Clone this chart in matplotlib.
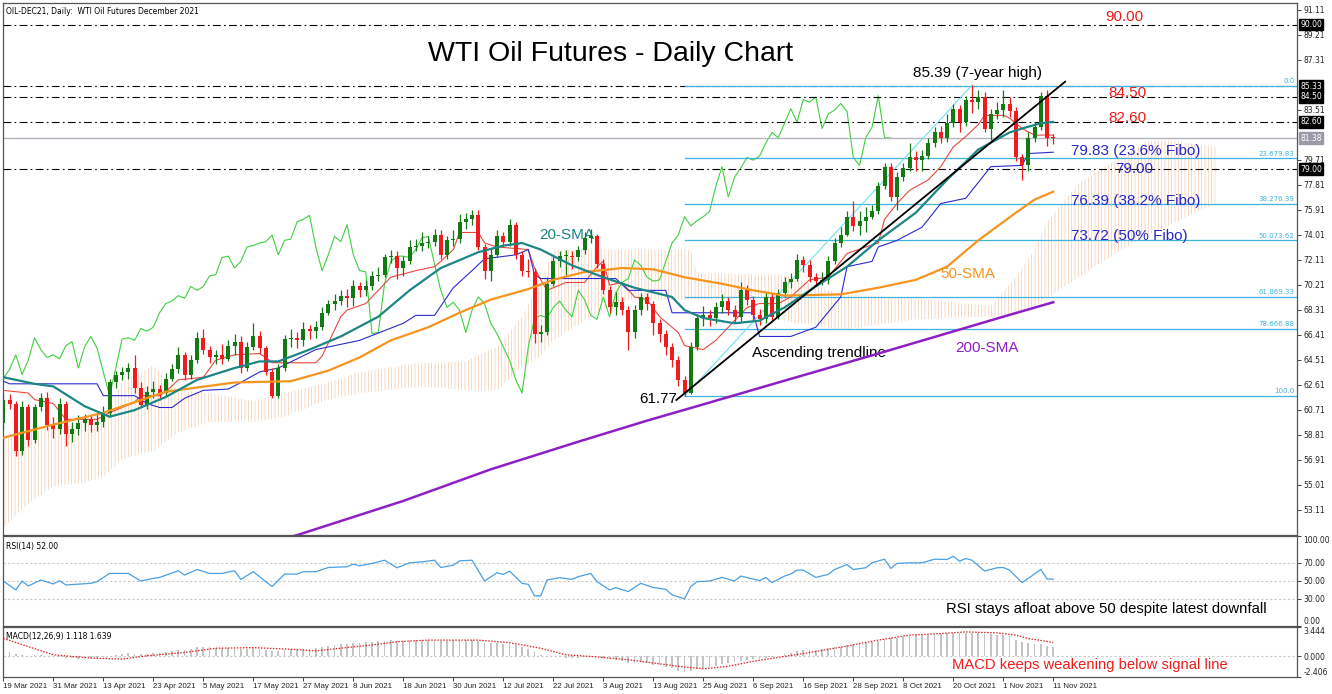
import numpy as np
import matplotlib
matplotlib.use("Agg")
import matplotlib.pyplot as plt

# ---- price data (daily bars) ----
first_open = 59.7
closes = [61.5, 61.2, 57.6, 60.9, 58.4, 60.9, 61.6, 59.6, 59.3, 61.2,
          58.9, 59.3, 59.7, 60.0, 59.6, 59.8, 60.5, 62.8, 63.4, 63.6,
          63.9, 62.4, 61.1, 62.1, 62.3, 62.0, 63.1, 63.8, 64.9, 63.4,
          64.5, 66.2, 65.3, 64.7, 64.9, 64.6, 65.6, 65.9, 63.9, 65.5,
          66.3, 65.4, 63.6, 61.8, 63.9, 66.1, 66.2, 66.0, 66.9, 66.7,
          67.0, 68.1, 68.8, 69.0, 69.4, 69.2, 70.1, 69.8, 70.1, 70.9,
          71.0, 72.3, 72.4, 71.5, 72.0, 73.1, 73.2, 73.4, 73.5, 74.0,
          72.5, 73.6, 73.7, 75.0, 75.2, 75.5, 73.1, 71.3, 72.5, 73.9,
          73.5, 74.8, 72.5, 71.3, 71.2, 66.5, 66.6, 70.3, 72.0, 72.4,
          72.4, 72.3, 72.9, 73.8, 73.9, 71.8, 69.8, 68.5, 68.9, 68.3,
          66.6, 68.3, 69.3, 68.8, 67.3, 66.5, 65.5, 64.5, 63.0, 62.0,
          65.5, 67.7, 67.9, 67.7, 68.5, 69.0, 68.3, 67.8, 69.8, 69.1,
          67.9, 67.6, 69.3, 67.8, 69.6, 70.4, 70.7, 72.1, 71.7, 70.8,
          70.5, 70.6, 72.0, 73.4, 74.0, 75.4, 74.7, 75.1, 75.4, 75.8,
          77.7, 79.2, 76.9, 78.4, 79.1, 79.9, 79.7, 80.0, 81.0, 81.8,
          81.4, 82.5, 83.6, 82.6, 84.3, 84.1, 84.5, 82.1, 83.2, 83.5,
          84.0, 83.4, 79.9, 79.3, 81.4, 82.2, 84.6, 81.4, 81.38]
highs = [62.0, 61.9, 61.4, 61.4, 61.2, 61.2, 62.0, 62.1, 60.2, 61.6,
         61.4, 59.8, 60.3, 60.4, 60.3, 60.4, 61.0, 63.1, 63.7, 64.0,
         64.3, 64.9, 62.8, 62.5, 62.9, 62.6, 63.5, 64.2, 65.5, 65.1,
         64.9, 66.6, 66.9, 65.6, 65.3, 65.7, 66.0, 66.5, 66.3, 65.9,
         67.3, 66.7, 65.6, 63.9, 64.2, 66.4, 66.9, 66.6, 67.4, 67.2,
         67.5, 68.5, 69.1, 69.5, 69.8, 69.9, 70.6, 70.4, 70.6, 71.3,
         71.6, 72.6, 72.9, 72.8, 72.4, 73.6, 73.7, 74.2, 73.9, 74.5,
         74.4, 73.9, 74.4, 75.6, 75.7, 75.9, 75.9, 73.3, 73.0, 74.4,
         74.2, 75.2, 75.0, 72.8, 72.2, 71.5, 67.2, 70.8, 72.4, 72.8,
         72.9, 72.8, 73.2, 74.2, 74.5, 74.1, 72.2, 70.1, 69.7, 69.3,
         68.6, 68.7, 69.6, 69.6, 69.0, 67.6, 66.8, 65.8, 64.8, 63.3,
         65.9, 68.0, 68.6, 68.3, 68.9, 69.5, 69.3, 68.7, 70.4, 70.2,
         69.4, 68.4, 69.7, 69.6, 69.9, 70.8, 71.1, 72.6, 72.4, 72.1,
         71.1, 71.2, 72.4, 73.8, 74.6, 75.8, 76.6, 75.8, 76.1, 76.3,
         78.0, 79.5, 79.5, 78.8, 79.5, 81.0, 80.4, 80.5, 81.4, 82.2,
         82.3, 83.2, 84.0, 83.9, 84.6, 85.39, 85.0, 84.9, 83.6, 84.1,
         85.0, 84.5, 83.7, 80.2, 81.8, 82.6, 84.9, 85.0, 81.7]
lows = [59.3, 60.8, 57.2, 57.3, 58.0, 58.2, 60.6, 59.2, 58.6, 58.9,
        58.0, 58.3, 58.8, 59.1, 59.0, 59.1, 59.4, 60.2, 62.4, 63.0,
        63.1, 62.0, 60.9, 60.8, 61.6, 61.5, 61.8, 62.9, 63.5, 63.0,
        63.1, 64.3, 65.0, 64.3, 64.2, 64.2, 64.4, 64.9, 63.5, 63.7,
        65.3, 65.0, 63.4, 61.6, 61.6, 63.7, 65.5, 65.4, 65.6, 66.1,
        66.2, 66.8, 67.9, 68.3, 68.7, 68.5, 68.6, 69.3, 69.4, 69.8,
        70.5, 70.8, 71.9, 70.7, 70.9, 71.8, 72.8, 72.8, 73.0, 73.2,
        72.2, 72.2, 73.2, 73.4, 74.5, 74.8, 72.9, 70.7, 70.5, 72.3,
        73.1, 73.2, 72.2, 70.9, 70.8, 65.8, 65.9, 66.4, 70.1, 71.6,
        71.0, 71.4, 72.0, 72.6, 73.4, 71.5, 69.5, 68.1, 67.9, 67.9,
        65.3, 66.2, 67.9, 68.3, 66.4, 65.9, 64.9, 64.0, 62.5, 61.77,
        61.9, 65.3, 67.1, 67.1, 67.3, 68.1, 67.9, 67.3, 67.5, 68.7,
        67.5, 67.2, 67.3, 67.4, 67.6, 69.3, 70.0, 70.5, 71.2, 70.4,
        70.1, 70.2, 70.3, 71.8, 73.1, 73.9, 74.3, 74.0, 74.2, 75.2,
        75.6, 77.5, 76.6, 75.9, 78.1, 78.9, 78.9, 78.9, 79.8, 80.7,
        81.0, 81.1, 82.2, 81.8, 82.3, 83.3, 83.6, 81.8, 81.2, 82.8,
        83.0, 83.0, 79.6, 78.2, 78.9, 81.1, 82.0, 80.8, 80.9]

# moving averages, read at a few bars
sma20_idx = [0, 5, 8, 13, 17, 21, 26, 31, 37, 41, 44, 49, 54, 60, 65, 70, 76, 80, 83, 86,
             91, 96, 101, 107, 109, 112, 117, 121, 125, 130, 135, 140, 146, 151, 156, 161,
             163, 166, 168]
sma20_val = [63.2, 62.7, 62.5, 61.0, 60.2, 60.7, 61.7, 63.0, 63.9, 64.4, 64.4, 65.3, 66.3,
             67.8, 69.8, 71.5, 72.7, 73.2, 73.4, 72.9, 71.7, 70.8, 70.0, 69.3, 68.3, 67.7,
             67.3, 67.5, 68.5, 70.1, 71.6, 73.6, 75.7, 78.2, 80.5, 81.8, 82.1, 82.5, 82.6]
sma50_idx = [0, 8, 16, 26, 37, 46, 52, 57, 62, 68, 73, 78, 84, 88, 93, 99, 104, 109, 115,
             120, 125, 134, 140, 146, 151, 156, 162, 165, 168]
sma50_val = [58.6, 59.6, 60.5, 62.1, 62.8, 62.9, 63.7, 64.7, 66.0, 67.0, 68.1, 69.1, 69.9,
             70.6, 71.2, 71.5, 71.4, 70.8, 70.3, 69.8, 69.4, 69.5, 70.0, 70.6, 71.6, 73.6,
             75.7, 76.7, 77.3]
sma200_idx = [40, 47, 64, 78, 92, 103, 111, 124, 140, 160, 168]
sma200_val = [50.3, 51.2, 53.8, 56.2, 58.3, 59.9, 61.0, 62.8, 65.0, 67.8, 68.9]

# ichimoku lines
tenkan_idx = [0, 4, 5, 8, 10, 15, 17, 21, 22, 25, 26, 28, 32, 34, 37, 41, 42, 43, 50, 51,
              54, 55, 58, 62, 66, 69, 70, 72, 73, 76, 77, 79, 84, 85, 86, 87, 90, 93, 95,
              96, 97, 99, 101, 103, 105, 107, 108, 109, 112, 114, 117, 119, 121, 124, 126,
              129, 132, 135, 138, 140, 141, 143, 145, 148, 150, 152, 154, 156, 157, 160,
              161, 163, 165, 168]
tenkan_val = [62.2, 62.0, 61.5, 61.2, 60.0, 60.0, 60.5, 61.3, 61.8, 61.8, 62.1, 63.0, 63.2,
              64.5, 64.9, 65.0, 64.7, 64.3, 64.3, 64.8, 67.8, 68.3, 68.8, 70.8, 71.3, 71.6,
              72.0, 72.9, 74.2, 74.2, 73.4, 73.1, 72.9, 71.5, 70.6, 69.8, 70.4, 70.4, 71.6,
              72.0, 70.2, 70.4, 69.3, 69.1, 67.8, 67.0, 66.6, 65.6, 65.3, 66.0, 67.5, 68.5,
              68.8, 68.8, 69.3, 70.6, 70.8, 72.6, 73.1, 73.4, 75.2, 76.4, 77.4, 78.2, 79.2,
              80.7, 81.5, 82.4, 83.1, 83.1, 82.9, 82.1, 81.6, 81.6]
kijun_idx = [0, 1, 15, 16, 21, 23, 25, 27, 29, 32, 36, 38, 41, 44, 50, 57, 64, 66, 69, 72,
             75, 77, 82, 84, 85, 86, 98, 100, 106, 107, 120, 121, 126, 130, 134, 135, 139,
             140, 143, 147, 150, 154, 155, 158, 163, 164, 168]
kijun_val = [62.9, 62.7, 62.7, 61.8, 61.8, 61.2, 60.9, 60.9, 61.6, 62.2, 62.3, 62.8, 63.6,
             63.9, 65.3, 66.0, 67.3, 67.9, 67.9, 70.0, 71.3, 72.2, 72.5, 72.9, 71.0, 70.7,
             70.7, 69.8, 69.8, 68.1, 68.1, 66.3, 66.3, 67.0, 69.3, 71.6, 72.0, 73.1, 73.6,
             74.6, 76.4, 76.8, 77.4, 79.2, 79.3, 80.2, 80.3]
chikou_shift = 26

# cloud envelope (upper / lower edge), runs 26 bars past the last candle
cloud_idx = [0, 4, 8, 12, 16, 19, 24, 28, 33, 40, 45, 52, 57, 67, 74, 79, 83, 86, 88, 94,
             97, 100, 110, 111, 124, 125, 134, 146, 158, 162, 165, 167, 172, 178, 183, 186,
             193, 194]
cloud_hi = [58.6, 59.0, 59.4, 59.6, 60.2, 62.8, 64.1, 62.2, 62.0, 61.4, 62.0, 62.8, 63.6,
            64.3, 64.4, 65.5, 67.8, 70.5, 72.9, 72.9, 72.9, 72.9, 72.9, 71.1, 71.0, 71.0,
            69.5, 69.2, 68.6, 70.8, 72.9, 75.0, 77.9, 79.7, 81.1, 81.2, 80.8, 80.8]
cloud_lo = [51.8, 53.6, 54.9, 55.1, 55.6, 57.0, 57.6, 59.0, 59.8, 59.8, 60.2, 61.5, 62.0,
            62.5, 62.2, 62.2, 64.0, 64.8, 66.0, 67.8, 68.5, 69.1, 69.1, 69.1, 69.3, 67.5,
            66.8, 67.6, 67.8, 68.0, 68.6, 69.2, 70.8, 72.6, 74.0, 74.6, 76.2, 76.4]

# RSI(14)
rsi_idx = [0, 2, 3, 4, 6, 8, 9, 10, 14, 15, 17, 20, 22, 24, 25, 28, 29, 31, 33, 35,
           37, 38, 40, 43, 45, 47, 48, 50, 52, 55, 56, 57, 59, 61, 63, 65, 67, 69, 70, 72,
           73, 75, 77, 79, 80, 81, 83, 84, 85, 86, 87, 89, 91, 92, 94, 95, 97, 98, 100, 102,
           104, 106, 107, 109, 110, 111, 113, 115, 117, 118, 121, 122, 123, 125, 126, 127,
           128, 130, 132, 133, 135, 136, 138, 139, 141, 142, 143, 145, 147, 149, 151, 152,
           153, 154, 155, 157, 159, 160, 161, 163, 164, 166, 167, 168]
rsi_val = [50.0, 40.1, 50.0, 44.5, 51.1, 46.7, 50.4, 45.6, 47.4, 49.3, 58.4, 58.4, 50.0,
           52.9, 54.0, 61.4, 56.6, 62.8, 58.4, 58.4, 61.4, 51.8, 60.3, 43.8, 57.7, 57.7,
           60.3, 60.3, 65.0, 65.8, 68.7, 66.9, 69.5, 73.1, 64.7, 70.2, 71.3, 73.1, 65.0,
           67.6, 72.4, 73.1, 50.0, 59.2, 57.3, 61.0, 47.4, 46.3, 33.5, 33.5, 51.1, 53.7,
           51.8, 54.8, 58.4, 49.3, 40.1, 42.7, 38.3, 47.4, 42.7, 40.8, 34.6, 30.2, 43.8,
           49.3, 50.0, 54.0, 50.0, 55.5, 50.4, 54.0, 48.2, 55.5, 57.7, 62.1, 62.1, 54.0,
           57.3, 62.8, 68.3, 62.8, 64.7, 70.2, 74.2, 64.0, 69.5, 70.2, 70.2, 74.2, 73.9,
           77.5, 72.0, 75.0, 73.1, 61.0, 64.7, 65.0, 62.1, 48.2, 52.9, 62.8, 52.2, 52.0]

# MACD(12,26,9): main (histogram) for every bar, signal read at a few bars
macd_main = [0.6, 0.5, 0.3, 0.2, 0.1, 0.15, 0.2, 0.1,
             0.0, -0.1, -0.2, -0.2, -0.25, -0.2,
             -0.2, -0.15, -0.1, 0.1, 0.2, 0.3,
             0.35, 0.3, 0.25, 0.3, 0.35, 0.4, 0.5, 0.6,
             0.8, 0.75, 0.85, 1.05, 1.1, 1.05, 1.0, 0.95,
             0.95, 1.0, 0.9, 0.9, 0.95, 0.9, 0.75, 0.6,
             0.65, 0.8, 0.85, 0.85, 0.9, 0.9, 0.95, 1.05,
             1.2, 1.3, 1.4, 1.45, 1.55, 1.6, 1.65, 1.72,
             1.78, 1.85, 1.9, 1.85, 1.85, 1.9, 1.92, 1.93,
             1.95, 1.85, 1.85, 1.85, 1.9, 1.95, 1.95, 1.95,
             1.8, 1.6, 1.55, 1.55, 1.5, 1.5, 1.35, 1.1,
             0.9, 0.5, 0.2, 0.1, 0.05, -0.1, -0.15, -0.2,
             -0.15, -0.05, 0.05, 0.0, -0.2, -0.35, -0.45, -0.55,
             -0.75, -0.75, -0.7, -0.8, -0.95, -1.05, -1.2, -1.4,
             -1.65, -1.85, -1.7, -1.5, -1.35, -1.25, -1.1, -0.9,
             -0.8, -0.7, -0.5, -0.4, -0.35, -0.25, -0.15, -0.05,
             0.1, 0.3, 0.45, 0.6, 0.7, 0.75, 0.8, 0.85,
             0.95, 1.05, 1.15, 1.3, 1.4, 1.5, 1.55, 1.65,
             1.85, 2.05, 2.1, 2.2, 2.3, 2.4, 2.45, 2.5,
             2.55, 2.6, 2.65, 2.7, 2.75, 2.75, 2.8, 2.8,
             2.75, 2.65, 2.6, 2.55, 2.5, 2.35, 1.95, 1.7,
             1.55, 1.5, 1.45, 1.25, 1.118]
signal_idx = [0, 4, 8, 14, 19, 23, 29, 34, 40, 46, 50, 54, 59, 63, 68, 76, 81, 86, 90, 94,
              100, 104, 108, 112, 116, 120, 125, 130, 135, 140, 145, 150, 154, 159, 162, 164,
              168]
signal_val = [2.1, 1.15, 0.19, -0.19, -0.31, 0.08, 0.46, 0.96, 1.03, 0.84, 0.65, 0.96, 1.34,
              1.72, 1.91, 1.91, 1.61, 0.96, 0.19, 0.0, -0.38, -0.77, -1.15, -1.45, -1.15,
              -0.57, 0.0, 0.57, 1.22, 1.91, 2.49, 2.68, 2.87, 2.76, 2.49, 2.1, 1.639]

# levels and drawings
hline_levels = [90.00, 85.33, 84.50, 82.60, 79.00]
last_price = 81.38
fibo_names = ["0.0", "23.6", "38.2", "50.0", "61.8", "78.6", "100.0"]
fibo_prices = [85.33, 79.83, 76.39, 73.62, 69.33, 66.88, 61.77]
fibo_start = 109
fibo_diag_x = [109, 155]
fibo_diag_y = [61.77, 85.39]
trend_x = [107.7, 169.9]
trend_y = [61.47, 85.66]

date_ticks = list(range(0, 169, 8))
date_labels = ["19 Mar 2021", "31 Mar 2021", "13 Apr 2021", "23 Apr 2021", "5 May 2021",
               "17 May 2021", "27 May 2021", "8 Jun 2021", "18 Jun 2021", "30 Jun 2021",
               "12 Jul 2021", "22 Jul 2021", "3 Aug 2021", "13 Aug 2021", "25 Aug 2021",
               "6 Sep 2021", "16 Sep 2021", "28 Sep 2021", "8 Oct 2021", "20 Oct 2021",
               "1 Nov 2021", "11 Nov 2021"]
price_ticks = [53.11, 55.01, 56.91, 58.81, 60.71, 62.61, 64.51, 66.41, 68.31, 70.21, 72.11,
               74.01, 75.91, 77.81, 79.71, 83.51, 87.31, 89.21, 91.11]

# ---- style ----
plt.rcParams['font.family'] = ['DejaVu Sans']
plt.rcParams['hatch.linewidth'] = 0.45
plt.rcParams['hatch.color'] = '#f4c3a2'
ANN = ['Liberation Sans', 'DejaVu Sans']
GREEN = '#137a13'
RED = '#ee1c1c'
BLUE = '#2626c8'
FIB = '#3db3dd'
FRAME = '#555555'

fig = plt.figure(figsize=(13.32, 6.94), dpi=100)
W, H = 1332.0, 694.0
ax = fig.add_axes([3 / W, 1 - 535 / H, 1294 / W, 532 / H])
ax_rsi = fig.add_axes([3 / W, 1 - 626 / H, 1294 / W, 90 / H])
ax_macd = fig.add_axes([3 / W, 1 - 677 / H, 1294 / W, 50 / H])

XMAX = 207.0
for a in (ax, ax_rsi, ax_macd):
    a.set_xlim(-0.05, XMAX)
    a.yaxis.tick_right()
    a.tick_params(axis='y', labelsize=5.5, length=3, width=0.6, pad=1.5, colors='#222222')
    a.tick_params(axis='x', labelsize=5.5, length=3, width=0.6, pad=1.5, colors='#222222')
    for s in a.spines.values():
        s.set_color(FRAME)
        s.set_linewidth(0.9)

# ---- main panel ----
ax.set_ylim(51.21, 91.64)
ax.set_yticks(price_ticks)
ax.set_yticklabels([f"{v:.2f}" for v in price_ticks])
ax.tick_params(axis='x', bottom=False, labelbottom=False)

ax.fill_between(cloud_idx, cloud_lo, cloud_hi, facecolor='none', edgecolor='#f4c3a2',
                hatch='|||||', linewidth=0, zorder=1)

closes_a = np.array(closes)
opens_a = np.r_[first_open, closes_a[:-1]]
bar_idx = np.arange(len(closes_a))
chikou_x = bar_idx[:len(closes_a) - chikou_shift]
ax.plot(chikou_x, closes_a[chikou_shift:], color='#3fd03f', lw=0.8, zorder=2)
ax.plot(tenkan_idx, tenkan_val, color='#e8483e', lw=0.8, zorder=3)
ax.plot(kijun_idx, kijun_val, color='#2b2bd0', lw=0.8, zorder=3)

for lvl in hline_levels:
    ax.axhline(lvl, color='black', lw=0.8, dashes=(7, 3, 1.5, 3), zorder=2)
ax.axhline(last_price, color='#b4b4be', lw=1.0, zorder=2)

for name, p in zip(fibo_names, fibo_prices):
    ax.plot([fibo_start, XMAX], [p, p], color=FIB, lw=0.9, zorder=2)
    lab = name if name in ("0.0", "100.0") else f"{name}{p:.2f}"
    ax.text(XMAX - 0.4, p + 0.12, lab, fontsize=5, color=FIB, ha='right', va='bottom', zorder=3)
ax.plot(fibo_diag_x, fibo_diag_y, color='#6fe0f2', lw=0.8, zorder=3)

colors = np.where(closes_a >= opens_a, GREEN, RED)
ax.vlines(bar_idx, lows, highs, colors=colors, lw=0.9, zorder=4)
body_lo = np.minimum(opens_a, closes_a)
body_h = np.maximum(np.abs(closes_a - opens_a), 0.08)
ax.bar(bar_idx, body_h, 0.64, bottom=body_lo, color=colors, lw=0, zorder=5)

ax.plot(sma200_idx, sma200_val, color='#8e1fc7', lw=1.8, zorder=6)
ax.plot(sma50_idx, sma50_val, color='#f7941e', lw=1.6, zorder=6)
ax.plot(sma20_idx, sma20_val, color='#1c8585', lw=1.6, zorder=6)
ax.plot(trend_x, trend_y, color='black', lw=1.3, zorder=7)

# right-axis price boxes
for lvl in hline_levels:
    ax.annotate(f"{lvl:.2f}", xy=(1, lvl), xycoords=('axes fraction', 'data'),
                xytext=(2.2, 0), textcoords='offset points', ha='left', va='center',
                fontsize=5.5, color='white', annotation_clip=False, zorder=10,
                bbox=dict(boxstyle='square,pad=0.18', fc='black', ec='black'))
ax.annotate(f"{last_price:.2f}", xy=(1, last_price), xycoords=('axes fraction', 'data'),
            xytext=(2.2, 0), textcoords='offset points', ha='left', va='center',
            fontsize=5.5, color='white', annotation_clip=False, zorder=10,
            bbox=dict(boxstyle='square,pad=0.18', fc='#9a9aa8', ec='#9a9aa8'))

# annotations
ax.text(0.002, 0.993, "OIL-DEC21, Daily:  WTI Oil Futures December 2021", transform=ax.transAxes,
        fontsize=5.5, ha='left', va='top', color='black')
ax.text(97.1, 87.75, "WTI Oil Futures - Daily Chart", fontsize=20.5, family=ANN,
        ha='center', va='center', color='black')
ax.text(145.6, 86.32, "85.39 (7-year high)", fontsize=11, family=ANN, ha='left', va='center')
ax.text(176.3, 90.57, "90.00", fontsize=11, family=ANN, ha='left', va='center', color=RED)
ax.text(176.8, 84.80, "84.50", fontsize=11, family=ANN, ha='left', va='center', color=RED)
ax.text(176.8, 82.90, "82.60", fontsize=11, family=ANN, ha='left', va='center', color=RED)
ax.text(170.8, 80.39, "79.83 (23.6% Fibo)", fontsize=11, family=ANN, ha='left', va='center', color=BLUE)
ax.text(177.9, 79.06, "79.00", fontsize=11, family=ANN, ha='left', va='center', color=BLUE)
ax.text(170.8, 76.59, "76.39 (38.2% Fibo)", fontsize=11, family=ANN, ha='left', va='center', color=BLUE)
ax.text(170.8, 73.93, "73.72 (50% Fibo)", fontsize=11, family=ANN, ha='left', va='center', color=BLUE)
ax.text(149.9, 71.04, "50-SMA", fontsize=11, family=ANN, ha='left', va='center', color='#f7941e')
ax.text(152.3, 65.42, "200-SMA", fontsize=11, family=ANN, ha='left', va='center', color='#8e1fc7')
ax.text(85.7, 74.01, "20-SMA", fontsize=11, family=ANN, ha='left', va='center', color='#1c8585')
ax.text(119.8, 65.04, "Ascending trendline", fontsize=11, family=ANN, ha='left', va='center')
ax.text(107.8, 61.54, "61.77", fontsize=11, family=ANN, ha='right', va='center')

# ---- RSI panel ----
ax_rsi.set_ylim(0, 100)
ax_rsi.set_yticks([0, 30, 50, 70, 100])
ax_rsi.set_yticklabels(["0.00", "30.00", "50.00", "70.00", "100.00"])
rsi_labels = ax_rsi.get_yticklabels()
rsi_labels[0].set_va('bottom')
rsi_labels[-1].set_va('top')
ax_rsi.tick_params(axis='x', bottom=False, labelbottom=False)
for g in (30, 50, 70):
    ax_rsi.axhline(g, color='#c8c8c8', lw=0.8, dashes=(2, 2))
ax_rsi.plot(rsi_idx, rsi_val, color='#4a9fe3', lw=0.9)
ax_rsi.text(0.002, 0.93, "RSI(14) 52.00", transform=ax_rsi.transAxes, fontsize=5.5,
            ha='left', va='top')
ax_rsi.text(150.8, 19, "RSI stays afloat above 50 despite latest downfall", fontsize=10.7,
            family=ANN, ha='left', va='center')

# ---- MACD panel ----
ax_macd.set_ylim(-2.406, 3.444)
ax_macd.set_yticks([-2.406, 0, 3.444])
ax_macd.set_yticklabels(["-2.406", "0.000", "3.444"])
macd_labels = ax_macd.get_yticklabels()
macd_labels[0].set_va('bottom')
macd_labels[-1].set_va('top')
ax_macd.axhline(0, color='#c8c8c8', lw=0.8, dashes=(2, 2))
ax_macd.bar(bar_idx, macd_main, 0.3, color='#c4c4c4', lw=0)
ax_macd.plot(signal_idx, signal_val, color='#e02020', lw=0.9, dashes=(1.2, 1.2))
ax_macd.text(0.002, 0.9, "MACD(12,26,9) 1.118 1.639", transform=ax_macd.transAxes,
             fontsize=5.5, ha='left', va='top')
ax_macd.text(151.8, -0.95, "MACD keeps weakening below signal line", fontsize=10.6,
             family=ANN, ha='left', va='center', color=RED)
ax_macd.set_xticks(date_ticks)
ax_macd.set_xticklabels(date_labels, ha='left', fontsize=5.7, family=ANN)

fig.savefig("out.png", dpi=100)
